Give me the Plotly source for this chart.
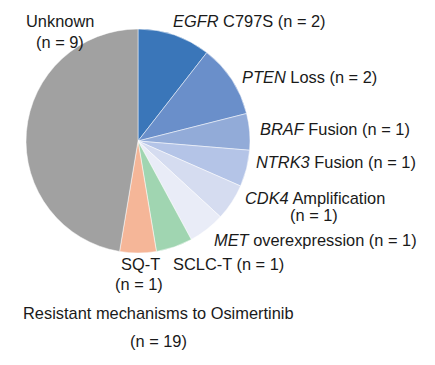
import plotly.graph_objects as go

W, H = 435, 365

categories = ["EGFR C797S", "PTEN Loss", "BRAF Fusion", "NTRK3 Fusion", "CDK4 Amplification",
              "MET overexpression", "SCLC-T", "SQ-T", "Unknown"]
counts = [2, 2, 1, 1, 1, 1, 1, 1, 9]
colors = ["#3a76b9", "#6a8fca", "#92abd8", "#b4c4e7", "#d5dcf0", "#e9ecf7",
          "#a0d5b1", "#f5b698", "#a1a1a1"]
label_texts = [
    "<i>EGFR</i> C797S (n = 2)",
    "<i>PTEN</i> Loss (n = 2)",
    "<i>BRAF</i> Fusion (n = 1)",
    "<i>NTRK3</i> Fusion (n = 1)",
    "<i>CDK4</i> Amplification",
    "<i>MET</i> overexpression (n = 1)",
    "SCLC-T (n = 1)",
    "SQ-T",
    "Unknown",
]
# label anchor positions in pixels (x, y, xanchor)
label_pos = [
    (171, 21, "left"),
    (240, 77, "left"),
    (258, 129, "left"),
    (254, 162, "left"),
    (243, 198, "left"),
    (212, 240, "left"),
    (171, 264, "left"),
    (140, 264, "center"),
    (60, 21, "center"),
]
extra_texts = [("(n = 9)", 60, 42), ("(n = 1)", 314, 215), ("(n = 1)", 139, 284)]
title_lines = [("Resistant mechanisms to Osimertinib", 158, 313), ("(n = 19)", 158, 341)]

cx, cy, r = 138, 141, 112

fig = go.Figure(go.Pie(
    labels=categories,
    values=counts,
    sort=False,
    direction="clockwise",
    rotation=0,
    marker=dict(colors=colors, line=dict(color="white", width=0.5)),
    textinfo="none",
    hoverinfo="label+value",
    showlegend=False,
    domain=dict(x=[(cx - r) / W, (cx + r) / W], y=[1 - (cy + r) / H, 1 - (cy - r) / H]),
))

font = dict(family="Arial, Liberation Sans, sans-serif", size=16.4, color="#1a1a1a")
ann = []
for t, (px, py, xa) in zip(label_texts, label_pos):
    ann.append(dict(text=t, x=px / W, y=1 - py / H, xref="paper", yref="paper",
                    xanchor=xa, yanchor="middle", showarrow=False, font=font))
for t, px, py in extra_texts + title_lines:
    ann.append(dict(text=t, x=px / W, y=1 - py / H, xref="paper", yref="paper",
                    xanchor="center", yanchor="middle", showarrow=False, font=font))

fig.update_layout(
    width=W, height=H,
    margin=dict(l=0, r=0, t=0, b=0),
    paper_bgcolor="white",
    plot_bgcolor="white",
    annotations=ann,
)
fig.write_html("out.html", config={"displayModeBar": False},
               post_script="document.body.style.margin='0';")
